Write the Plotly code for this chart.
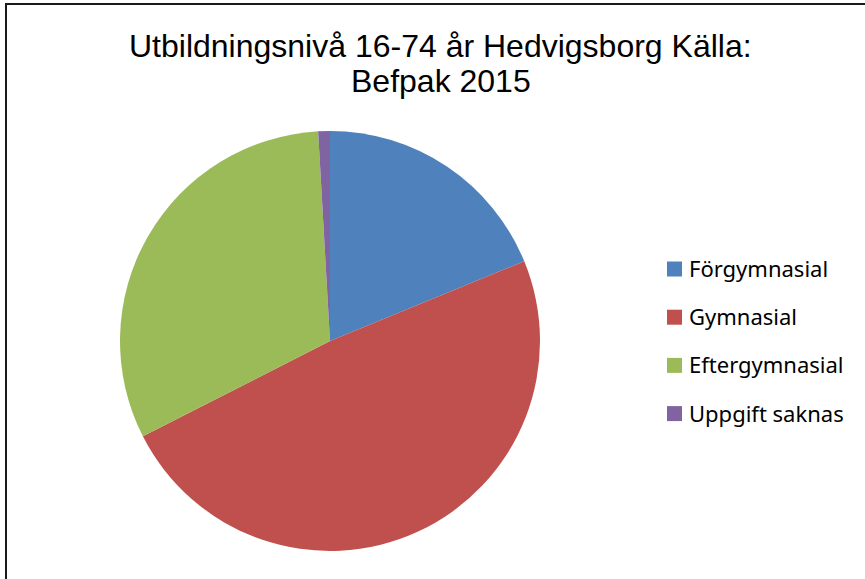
import plotly.graph_objects as go

labels = ["Förgymnasial", "Gymnasial", "Eftergymnasial", "Uppgift saknas"]
values = [18.8, 48.7, 31.6, 0.9]
colors = ["#4F81BD", "#C0504D", "#9BBB59", "#8064A2"]
title_lines = ["Utbildningsnivå 16-74 år Hedvigsborg Källa:", "Befpak 2015"]

W, H = 865, 579

fig = go.Figure()
fig.add_trace(go.Pie(
    labels=labels, values=values, sort=False, direction="clockwise", rotation=0,
    marker=dict(colors=colors, line=dict(width=0)),
    textinfo="none", hoverinfo="label+percent", showlegend=False,
    domain=dict(x=[120 / W, 540 / W], y=[1 - 551 / H, 1 - 131 / H]),
))

# custom legend (squares + text), spaced like the original
shapes = []
annotations = []
for i, (lab, col) in enumerate(zip(labels, colors)):
    cy = 269 + i * 48.2
    shapes.append(dict(type="rect", xref="paper", yref="paper",
                       x0=667 / W, x1=682 / W,
                       y0=1 - (cy + 7.5) / H, y1=1 - (cy - 7.5) / H,
                       fillcolor=col, line=dict(width=0)))
    annotations.append(dict(text=lab, xref="paper", yref="paper",
                            x=687 / W, y=1 - (cy - 1) / H, xanchor="left", yanchor="middle",
                            showarrow=False,
                            font=dict(family="Noto Sans, sans-serif", size=22, color="#000000")))

# chart frame
shapes.append(dict(type="rect", xref="paper", yref="paper",
                   x0=6 / W, x1=1.02, y0=-0.02, y1=1 - 4 / H,
                   line=dict(color="#1a1a1a", width=2), fillcolor="rgba(0,0,0,0)"))

for line, cy in zip(title_lines, [46, 81]):
    annotations.append(dict(text=line, xref="paper", yref="paper",
                            x=440.5 / W, y=1 - cy / H, xanchor="center", yanchor="middle",
                            showarrow=False, align="center",
                            font=dict(family="Liberation Sans, Arial, sans-serif", size=32, color="#000000")))

fig.update_layout(
    width=W, height=H,
    margin=dict(l=0, r=0, t=0, b=0),
    paper_bgcolor="white", plot_bgcolor="white",
    shapes=shapes, annotations=annotations,
)

fig.write_html("out.html", config={"displayModeBar": False},
               post_script="document.body.style.margin='0px';")
